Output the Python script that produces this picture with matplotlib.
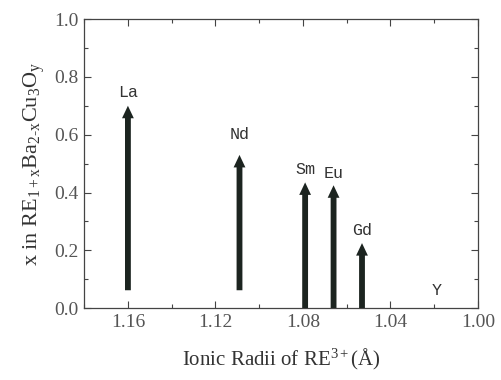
import matplotlib
matplotlib.use("Agg")
import matplotlib.pyplot as plt
from matplotlib.patches import FancyArrowPatch
from matplotlib.ticker import MultipleLocator

plt.rcParams["mathtext.fontset"] = "custom"
plt.rcParams["mathtext.rm"] = "Liberation Serif"
plt.rcParams["mathtext.it"] = "Liberation Serif"
plt.rcParams["mathtext.default"] = "regular"

# Data
elements = ["La", "Nd", "Sm", "Eu", "Gd", "Y"]
radii = [1.160, 1.109, 1.079, 1.066, 1.053, 1.019]
x_max = [0.70, 0.53, 0.435, 0.425, 0.225, None]
x_min = [0.062, 0.062, 0.0, 0.0, 0.0, None]
label_y = [0.745, 0.60, 0.48, 0.465, 0.27, 0.06]
xticks = [1.16, 1.12, 1.08, 1.04, 1.00]
yticks = [0.0, 0.2, 0.4, 0.6, 0.8, 1.0]

fig = plt.figure(figsize=(5.01, 3.80), dpi=100)
ax = fig.add_axes([0.168, 0.189, 0.786, 0.761])

arrow_color = "#1c2420"
for el, r, top, bot in zip(elements, radii, x_max, x_min):
    if top is None:
        continue
    arr = FancyArrowPatch((r, bot), (r, top),
                          arrowstyle="simple,head_length=0.9,head_width=0.85,tail_width=0.42",
                          mutation_scale=10, shrinkA=0, shrinkB=0,
                          color=arrow_color, lw=0, zorder=3)
    ax.add_patch(arr)

for el, r, ly in zip(elements, radii, label_y):
    ax.text(r, ly, el, ha="center", va="center", fontsize=12,
            family="Liberation Mono", color="#333333")

ax.set_xlim(1.18, 1.00)
ax.set_ylim(0.0, 1.0)
ax.set_xticks(xticks)
ax.set_xticklabels([f"{t:.2f}" for t in xticks])
ax.set_yticks(yticks)
ax.set_yticklabels([f"{t:.1f}" for t in yticks])
ax.xaxis.set_minor_locator(MultipleLocator(0.02))
ax.yaxis.set_minor_locator(MultipleLocator(0.1))

ax.tick_params(which="both", direction="in", top=True, right=True,
               color="#444444", width=0.8)
ax.tick_params(which="major", length=5, labelsize=14, labelcolor="#555555", pad=4)
ax.tick_params(which="minor", length=3)
for lab in ax.get_xticklabels() + ax.get_yticklabels():
    lab.set_family("Liberation Serif")

for s in ax.spines.values():
    s.set_color("#444444")
    s.set_linewidth(0.9)

ax.set_xlabel("Ionic Radii of RE$^{3+}$(Å)", fontsize=15, family="Liberation Serif",
              color="#333333", labelpad=12)
ax.set_ylabel("x in RE$_{1+x}$Ba$_{2\\text{-}x}$Cu$_3$O$_y$", fontsize=16,
              family="Liberation Serif", color="#333333", labelpad=5)

fig.savefig("out.png", dpi=100)
